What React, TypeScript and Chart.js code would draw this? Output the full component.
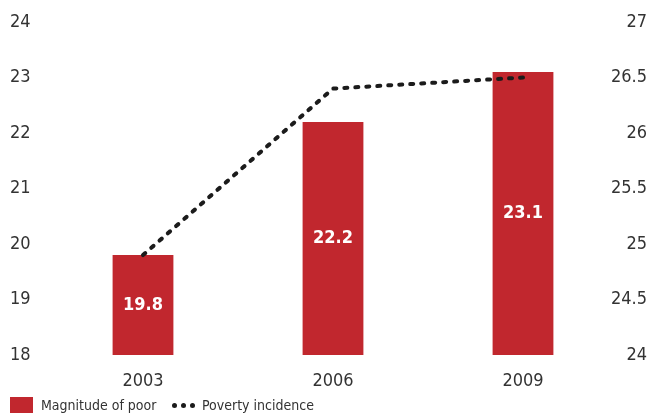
import React, { useEffect, useRef } from "react";
import { Chart, registerables } from "chart.js";

const years = ["2003", "2006", "2009"];
const magnitudeOfPoor = [19.8, 22.2, 23.1];
const povertyIncidence = [24.9, 26.4, 26.5];
const leftTicks = [18, 19, 20, 21, 22, 23, 24];
const rightTicks = [24, 24.5, 25, 25.5, 26, 26.5, 27];

const FONT = "'DejaVu Sans Condensed', 'DejaVu Sans', sans-serif";
const RED = "#C1272E";
const TEXT = "#333333";

const valueLabels = {
  id: "valueLabels",
  afterDraw(chart: any) {
    const ctx = chart.ctx;
    const xs = chart.scales.x;
    const ys = chart.scales.y;
    ctx.save();
    ctx.font = "bold 18px " + FONT;
    ctx.textAlign = "center";
    ctx.textBaseline = "middle";
    ctx.fillStyle = "#ffffff";
    magnitudeOfPoor.forEach((v, i) => {
      const x = xs.getPixelForValue(i);
      const top = ys.getPixelForValue(v);
      const base = ys.getPixelForValue(ys.min);
      ctx.fillText(v.toFixed(1), x, (top + base) / 2);
    });
    ctx.restore();
  },
};

Chart.register(...registerables, valueLabels);

export default function App() {
  const ref = useRef<HTMLCanvasElement>(null);
  useEffect(() => {
    document.body.style.margin = "0";
    const chart = new Chart(ref.current!, {
      type: "bar",
      data: {
        labels: years,
        datasets: [
          {
            type: "line",
            label: "Poverty incidence",
            data: povertyIncidence,
            yAxisID: "y2",
            borderColor: "#1b1b1b",
            borderWidth: 4,
            borderDash: [3, 8],
            borderCapStyle: "round",
            pointRadius: 0,
            fill: false,
            tension: 0,
            order: 0,
          } as any,
          {
            type: "bar",
            label: "Magnitude of poor",
            data: magnitudeOfPoor,
            yAxisID: "y",
            backgroundColor: RED,
            barPercentage: 0.64,
            categoryPercentage: 0.5,
            order: 1,
          },
        ],
      },
      options: {
        animation: false,
        responsive: false,
        maintainAspectRatio: false,
        layout: { padding: { top: 22, left: 10, right: 12, bottom: 13 } },
        plugins: { legend: { display: false }, tooltip: { enabled: false } },
        scales: {
          x: {
            offset: true,
            grid: { display: false, drawTicks: false },
            border: { display: false },
            ticks: { color: TEXT, font: { family: FONT, size: 18 }, padding: 16 },
            afterFit: (s: any) => {
              s.height = 45;
            },
          },
          y: {
            position: "left",
            min: 18,
            max: 24,
            grid: { display: false, drawTicks: false },
            border: { display: false },
            afterBuildTicks: (s: any) => {
              s.ticks = leftTicks.map((v) => ({ value: v }));
            },
            ticks: { color: TEXT, font: { family: FONT, size: 18 }, padding: 0, crossAlign: "far" },
            afterFit: (s: any) => {
              s.width = 38;
            },
          },
          y2: {
            position: "right",
            min: 24,
            max: 27,
            grid: { display: false, drawTicks: false },
            border: { display: false },
            afterBuildTicks: (s: any) => {
              s.ticks = rightTicks.map((v) => ({ value: v }));
            },
            ticks: {
              color: TEXT,
              font: { family: FONT, size: 18 },
              padding: 0,
              crossAlign: "far",
              callback: (v: any) => String(v),
            },
            afterFit: (s: any) => {
              s.width = 29;
              s._computeLabelArea = () => undefined;
            },
          },
        },
      },
    });
    return () => chart.destroy();
  }, []);

  const legendText: React.CSSProperties = {
    position: "absolute",
    top: 0,
    fontFamily: FONT,
    fontSize: 14,
    color: TEXT,
    lineHeight: "16px",
    whiteSpace: "nowrap",
  };
  const dot: React.CSSProperties = {
    display: "inline-block",
    width: 5,
    height: 5,
    borderRadius: "50%",
    background: "#1b1b1b",
    marginRight: 4,
  };

  return (
    <div style={{ position: "relative", width: 659, height: 413, overflow: "hidden", background: "#fff" }}>
      <canvas ref={ref} width={659} height={413} style={{ position: "absolute", left: 0, top: 0, width: 659, height: 413 }} />
      <div style={{ position: "absolute", left: 0, top: 397, width: 659, height: 16 }}>
        <span style={{ position: "absolute", left: 10, top: 0, width: 23, height: 16, background: RED }} />
        <span style={{ ...legendText, left: 41 }}>Magnitude of poor</span>
        <span style={{ position: "absolute", left: 172, top: 6, display: "flex" }}>
          <span style={dot} />
          <span style={dot} />
          <span style={dot} />
        </span>
        <span style={{ ...legendText, left: 202 }}>Poverty incidence</span>
      </div>
    </div>
  );
}
